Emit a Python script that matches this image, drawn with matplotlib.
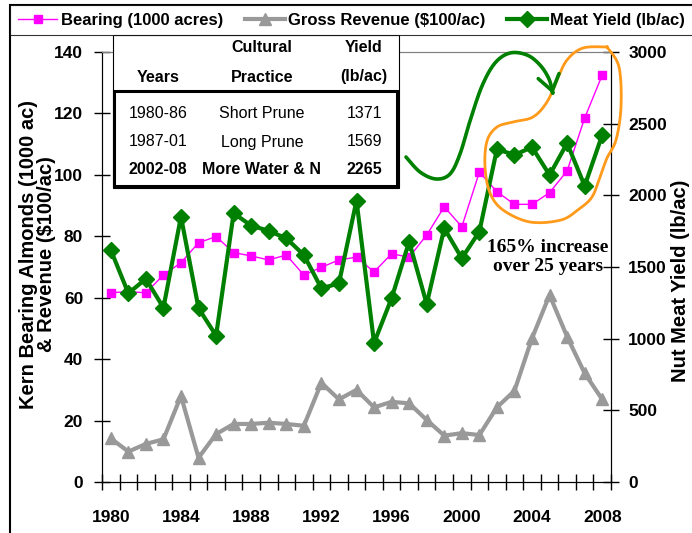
import numpy as np
import matplotlib
matplotlib.use("Agg")
import matplotlib.pyplot as plt
from matplotlib.patches import Rectangle, FancyArrowPatch
from matplotlib.path import Path
from matplotlib.lines import Line2D

years = list(range(1980, 2009))
bearing = [61.6, 62.0, 61.6, 67.4, 71.4, 77.9, 79.9, 74.7, 73.6, 72.3, 73.9, 67.4,
           69.9, 72.3, 73.2, 68.4, 74.3, 73.2, 80.4, 89.6, 83.1, 100.9, 94.5, 90.4,
           90.4, 94.2, 101.3, 118.5, 132.5]
revenue = [14.2, 9.9, 12.4, 13.9, 28.0, 7.9, 15.6, 18.9, 18.9, 19.3, 18.9, 18.3,
           32.3, 26.9, 30.0, 24.3, 26.1, 25.6, 20.2, 15.1, 15.9, 15.3, 24.3, 29.7,
           46.8, 60.9, 47.3, 35.4, 26.9]
meat_yield = [1619, 1317, 1417, 1216, 1851, 1212, 1021, 1875, 1789, 1752, 1700, 1584,
              1351, 1386, 1963, 970, 1282, 1677, 1242, 1770, 1561, 1747, 2322, 2282,
              2336, 2142, 2364, 2066, 2421]

table_head = [["", "Cultural", "Yield"], ["Years", "Practice", "(lb/ac)"]]
table_rows = [["1980-86", "Short Prune", "1371"],
              ["1987-01", "Long Prune", "1569"],
              ["2002-08", "More Water & N", "2265"]]

W, H = 692, 533
SANS = ["Liberation Sans", "DejaVu Sans"]
SERIF = ["Liberation Serif", "DejaVu Serif"]

MAGENTA = "#FF00FF"
GREY = "#999999"
GREEN = "#008000"
ORANGE = "#FF9A1A"


def fx(px):
    return px / W


def fy(py):
    return 1 - py / H


def smooth(pts, n=12):
    # catmull-rom through the hand-drawn guide points
    p = np.array(pts, dtype=float)
    p = np.vstack([p[0], p, p[-1]])
    out = []
    for i in range(1, len(p) - 2):
        p0, p1, p2, p3 = p[i - 1], p[i], p[i + 1], p[i + 2]
        for t in np.linspace(0, 1, n, endpoint=False):
            t2, t3 = t * t, t * t * t
            out.append(0.5 * ((2 * p1) + (-p0 + p2) * t + (2 * p0 - 5 * p1 + 4 * p2 - p3) * t2
                              + (-p0 + 3 * p1 - 3 * p2 + p3) * t3))
    out.append(p[-2])
    return np.array(out)


fig = plt.figure(figsize=(W / 100, H / 100), dpi=100)
ax = fig.add_axes([fx(102), fy(482), 509 / W, 430 / H])
ax2 = ax.twinx()

ax.plot(years, revenue, color=GREY, lw=3, marker="^", ms=9, zorder=2)
ax.plot(years, bearing, color=MAGENTA, lw=1, marker="s", ms=5.5, zorder=3)
ax2.plot(years, meat_yield, color=GREEN, lw=3, marker="D", ms=8, zorder=3)

ax.set_xlim(1979.5, 2008.5)
ax.set_ylim(0, 140)
ax2.set_ylim(0, 3000)
ax.set_yticks(range(0, 141, 20))
ax2.set_yticks(range(0, 3001, 500))
ax.set_xticks(range(1980, 2009, 4))
ax.set_xticks(np.arange(1979.5, 2009, 1), minor=True)
ax.tick_params(axis="x", which="major", length=0, pad=20)
ax.tick_params(axis="x", which="minor", direction="inout", length=11, width=1)
ax.tick_params(axis="y", direction="inout", length=11, width=1, pad=8)
ax2.tick_params(axis="y", direction="inout", length=11, width=1, pad=7)

for a in (ax, ax2):
    for lab in a.get_xticklabels() + a.get_yticklabels():
        lab.set_family(SANS)
        lab.set_fontweight("bold")
        lab.set_fontsize(12.5)
    a.spines["top"].set_color("#808080")
    a.spines["top"].set_linewidth(0.8)
    a.patch.set_visible(False)

ax.set_ylabel("Kern Bearing Almonds (1000 ac)\n& Revenue ($100/ac)", family=SANS,
              fontweight="bold", fontsize=14.5, linespacing=0.95)
ax.yaxis.set_label_coords(-0.09, 0.53)
ax2.set_ylabel("Nut Meat Yield (lb/ac)", family=SANS, fontweight="bold", fontsize=14.5)
ax2.yaxis.set_label_coords(1.117, 0.467)

# orange loop round the recent years
loop_px = [(607, 47), (619, 67), (621, 107), (616, 140), (607, 158), (600, 177), (592, 197),
           (579, 209), (561, 220), (530, 222), (503, 210), (490, 193), (485, 167), (487, 141),
           (497, 127), (513, 122), (533, 117), (547, 102), (557, 80), (567, 60), (583, 48), (607, 47)]
loop = smooth([((x - 102) / 509, (482 - y) / 430) for x, y in loop_px])
ax2.plot(loop[:, 0], loop[:, 1], color=ORANGE, lw=2, transform=ax.transAxes,
         clip_on=False, zorder=5)

# green arrow
arrow_px = [(406, 157), (420, 172), (436, 179), (450, 174), (460, 154), (470, 121), (482, 86),
            (495, 63), (510, 53), (527, 55), (540, 65), (549, 79), (553, 94)]
arr = smooth([((x - 102) / 509, (482 - y) / 430) for x, y in arrow_px])
ax2.add_patch(FancyArrowPatch(path=Path(arr), arrowstyle="->,head_length=0.5,head_width=0.35",
                              mutation_scale=22, color=GREEN, lw=2.6,
                              transform=ax.transAxes, clip_on=False, zorder=5))

ax2.text((548 - 102) / 509, (482 - 257) / 430, "165% increase\nover 25 years",
         transform=ax.transAxes, ha="center", va="center", family=SERIF,
         fontweight="bold", fontsize=14, linespacing=1.15, zorder=6)

# outer frame
fig.patches.append(Rectangle((fx(10), fy(560)), 720 / W, 555 / H, transform=fig.transFigure,
                             fill=False, edgecolor="black", lw=1.5, zorder=1))

# table
fig.patches.append(Rectangle((fx(113), fy(188)), 286 / W, 153 / H, transform=fig.transFigure,
                             facecolor="white", edgecolor="black", lw=0.8, zorder=2))
fig.patches.append(Rectangle((fx(114), fy(186)), 283 / W, 95 / H, transform=fig.transFigure,
                             fill=False, edgecolor="black", lw=2.2, zorder=2))
col_x = [158, 262, 364]
for r, row in enumerate(table_head):
    for c, txt in enumerate(row):
        fig.text(fx(col_x[c]), fy([48, 77][r]), txt, ha="center", va="center",
                 family=SANS, fontweight="bold", fontsize=11.5, zorder=4)
for r, row in enumerate(table_rows):
    for c, txt in enumerate(row):
        fig.text(fx(col_x[c]), fy([113, 142, 170][r]), txt, ha="center", va="center",
                 family=SANS, fontweight="bold" if r == 2 else "normal",
                 fontsize=11.5, zorder=4)

handles = [Line2D([], [], color=MAGENTA, lw=1, marker="s", ms=5.5),
           Line2D([], [], color=GREY, lw=3, marker="^", ms=9),
           Line2D([], [], color=GREEN, lw=3, marker="D", ms=8)]
labels = ["Bearing (1000 acres)", "Gross Revenue ($100/ac)", "Meat Yield (lb/ac)"]
leg = fig.legend(handles, labels, loc="upper left", bbox_to_anchor=(fx(10), fy(5)),
                 ncol=3, frameon=True, fancybox=False, borderaxespad=0, handlelength=2.4,
                 handletextpad=0.2, columnspacing=1.3, borderpad=0.45,
                 prop={"family": SANS, "weight": "bold", "size": 12})
leg.get_frame().set_edgecolor("black")
leg.get_frame().set_linewidth(0.8)

fig.savefig("out.png", dpi=100)
